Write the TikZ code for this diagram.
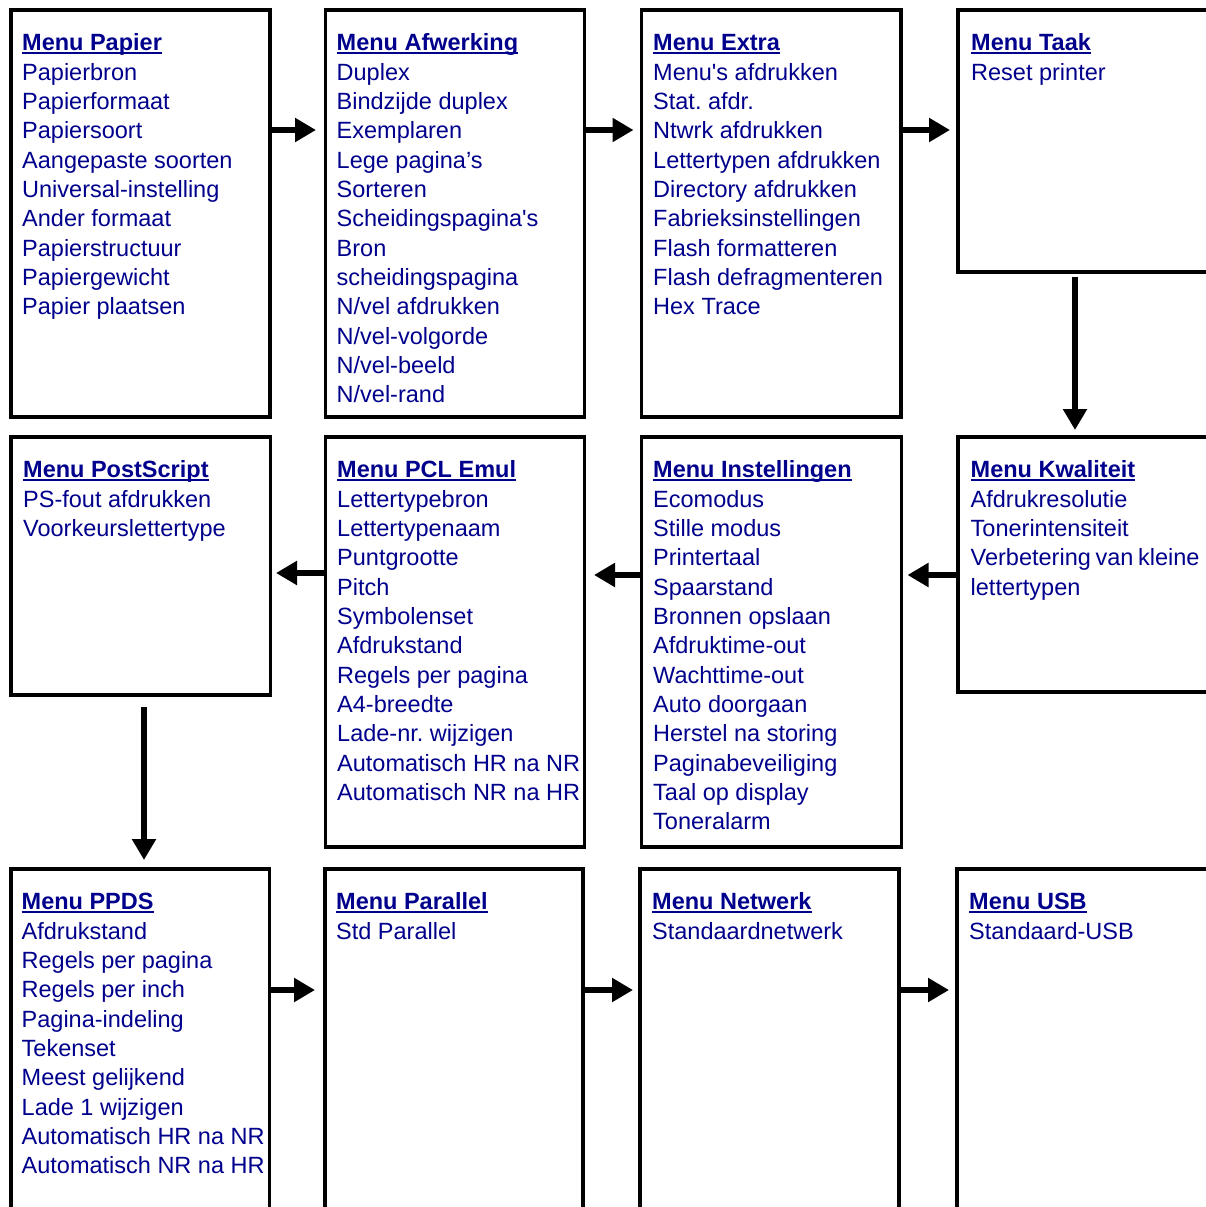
\documentclass[tikz,border=0pt]{standalone}
\usepackage{fontspec}
\setmainfont{Liberation Sans}
\usetikzlibrary{arrows.meta}

\definecolor{menublue}{RGB}{0,0,140}
\newlength\titlewd
\newcommand\menutitle[1]{\rule{0pt}{18pt}\settowidth\titlewd{\bfseries #1}{\bfseries #1}\llap{\rule[-3.5pt]{\titlewd}{2pt}}}

\tikzset{
  menubox/.style={draw, line width=3.2pt, inner sep=0pt, outer sep=0pt, anchor=north west},
  menulist/.style={anchor=north west, align=left, inner sep=0pt, text=menublue,
    font=\fontsize{23.5}{29.33}\selectfont\frenchspacing},
  flow/.style={line width=6pt, -{Triangle[length=21pt,width=23pt]}},
}

\begin{document}
\begin{tikzpicture}[x=1pt, y=-1pt]
\useasboundingbox (0,0) rectangle (1206,1207);
\clip (0,0) rectangle (1206,1207);

\def\xa{11}
\def\xb{325.5}
\def\xc{641.5}
\def\xd{958}

\def\ya{10}
\def\yb{437}
\def\yc{869}

% row 1
\node[menubox, minimum width=259, minimum height=407] (papier) at (\xa, \ya) {};
\node[menubox, minimum width=259, minimum height=407] (afwerking) at (\xb, \ya) {};
\node[menubox, minimum width=259.5, minimum height=407] (extra) at (\xc, \ya) {};
\node[menubox, minimum width=290, minimum height=262] (taak) at (\xd, \ya) {};

% row 2
\node[menubox, minimum width=259.5, minimum height=258] (postscript) at (\xa, \yb) {};
\node[menubox, minimum width=259, minimum height=410] (pcl) at (\xb, \yb) {};
\node[menubox, minimum width=260, minimum height=410] (instellingen) at (\xc, \yb) {};
\node[menubox, minimum width=290, minimum height=255] (kwaliteit) at (\xd, \yb) {};

% row 3
\node[menubox, minimum width=258.5, minimum height=380] (ppds) at (\xa, \yc) {};
\node[menubox, minimum width=258, minimum height=380] (parallel) at (325, \yc) {};
\node[menubox, minimum width=259, minimum height=380] (netwerk) at (640, \yc) {};
\node[menubox, minimum width=290, minimum height=380] (usb) at (957, \yc) {};

\node[menulist] (papiertxt) at ([xshift=11pt, yshift=-22.5pt]papier.north west)
  {\menutitle{Menu Papier}\\Papierbron\\Papierformaat\\Papiersoort\\Aangepaste soorten\\
   Universal-instelling\\Ander formaat\\Papierstructuur\\Papiergewicht\\Papier plaatsen};
\node[menulist] (afwerkingtxt) at ([xshift=11pt, yshift=-22.5pt]afwerking.north west)
  {\menutitle{Menu Afwerking}\\Duplex\\Bindzijde duplex\\Exemplaren\\Lege pagina’s\\Sorteren\\
   Scheidingspagina\textquotesingle s\\Bron\\scheidingspagina\\N/vel afdrukken\\N/vel-volgorde\\
   N/vel-beeld\\N/vel-rand};
\node[menulist] (extratxt) at ([xshift=11.5pt, yshift=-22.5pt]extra.north west)
  {\menutitle{Menu Extra}\\Menu\textquotesingle s afdrukken\\Stat. afdr.\\Ntwrk afdrukken\\
   Lettertypen afdrukken\\Directory afdrukken\\Fabrieksinstellingen\\Flash formatteren\\
   Flash defragmenteren\\Hex Trace};
\node[menulist] (taaktxt) at ([xshift=13pt, yshift=-22.5pt]taak.north west)
  {\menutitle{Menu Taak}\\Reset printer};

\node[menulist] (postscripttxt) at ([xshift=12pt, yshift=-22.5pt]postscript.north west)
  {\menutitle{Menu PostScript}\\PS-fout afdrukken\\Voorkeurslettertype};
\node[menulist] (pcltxt) at ([xshift=11.5pt, yshift=-22.5pt]pcl.north west)
  {\menutitle{Menu PCL Emul}\\Lettertypebron\\Lettertypenaam\\Puntgrootte\\Pitch\\Symbolenset\\
   Afdrukstand\\Regels per pagina\\A4-breedte\\Lade-nr. wijzigen\\Automatisch HR na NR\\
   Automatisch NR na HR};
\node[menulist] (instellingentxt) at ([xshift=11.5pt, yshift=-22.5pt]instellingen.north west)
  {\menutitle{Menu Instellingen}\\Ecomodus\\Stille modus\\Printertaal\\Spaarstand\\
   Bronnen opslaan\\Afdruktime-out\\Wachttime-out\\Auto doorgaan\\Herstel na storing\\
   Paginabeveiliging\\Taal op display\\Toneralarm};
\node[menulist] (kwaliteittxt) at ([xshift=12.5pt, yshift=-22.5pt]kwaliteit.north west)
  {\menutitle{Menu Kwaliteit}\\Afdrukresolutie\\Tonerintensiteit\\
   {\spaceskip=0.2em Verbetering van kleine}\\lettertypen};

\node[menulist] (ppdstxt) at ([xshift=10.5pt, yshift=-22.5pt]ppds.north west)
  {\menutitle{Menu PPDS}\\Afdrukstand\\Regels per pagina\\Regels per inch\\Pagina-indeling\\
   Tekenset\\Meest gelijkend\\Lade 1 wijzigen\\Automatisch HR na NR\\Automatisch NR na HR};
\node[menulist] (paralleltxt) at ([xshift=11pt, yshift=-22.5pt]parallel.north west)
  {\menutitle{Menu Parallel}\\Std Parallel};
\node[menulist] (netwerktxt) at ([xshift=12pt, yshift=-22.5pt]netwerk.north west)
  {\menutitle{Menu Netwerk}\\Standaardnetwerk};
\node[menulist] (usbtxt) at ([xshift=12pt, yshift=-22.5pt]usb.north west)
  {\menutitle{Menu USB}\\Standaard-USB};

% arrows
\draw[flow] ([yshift=-120pt]papier.north east) -- ([xshift=-9.5pt, yshift=-120pt]afwerking.north west);
\draw[flow] ([yshift=-120pt]afwerking.north east) -- ([xshift=-8pt, yshift=-120pt]extra.north west);
\draw[flow] ([yshift=-120pt]extra.north east) -- ([xshift=-8pt, yshift=-120pt]taak.north west);
\draw[flow] ([xshift=117pt, yshift=-5pt]taak.south west) -- ([xshift=117pt, yshift=7pt]kwaliteit.north west);

\draw[flow] ([yshift=-138pt]kwaliteit.north west) -- ([xshift=6pt, yshift=-138pt]instellingen.north east);
\draw[flow] ([yshift=-138pt]instellingen.north west) -- ([xshift=9.5pt, yshift=-138pt]pcl.north east);
\draw[flow] ([yshift=-136pt]pcl.north west) -- ([xshift=5.5pt, yshift=-136pt]postscript.north east);
\draw[flow] ([xshift=133pt, yshift=-12pt]postscript.south west) -- ([xshift=133pt, yshift=9pt]ppds.north west);

\draw[flow] ([yshift=-121pt]ppds.north east) -- ([xshift=-10pt, yshift=-121pt]parallel.north west);
\draw[flow] ([yshift=-121pt]parallel.north east) -- ([xshift=-7pt, yshift=-121pt]netwerk.north west);
\draw[flow] ([yshift=-121pt]netwerk.north east) -- ([xshift=-8pt, yshift=-121pt]usb.north west);

\end{tikzpicture}
\end{document}
